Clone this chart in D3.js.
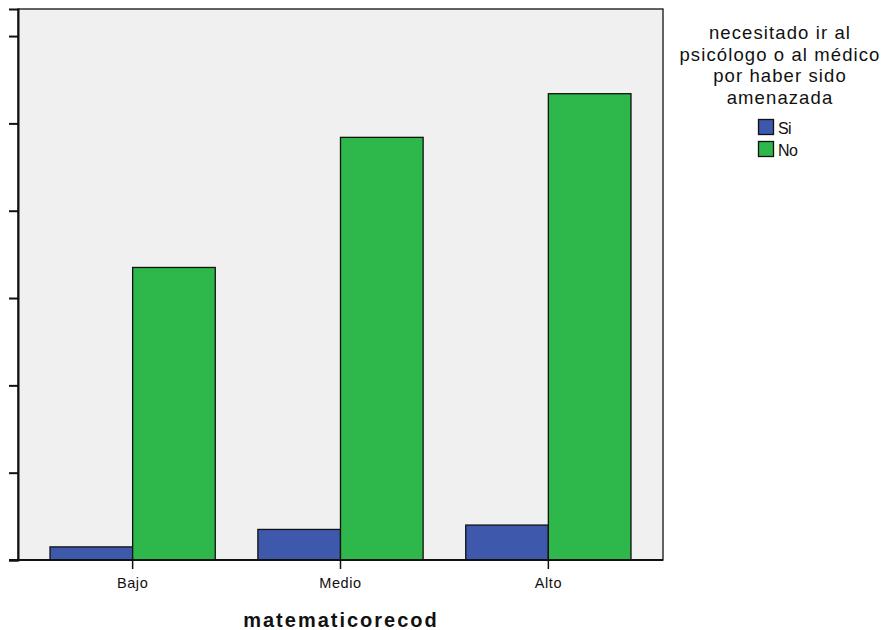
<!DOCTYPE html>
<html><head><meta charset="utf-8">
<script src="https://cdn.jsdelivr.net/npm/d3@7"></script>
<style>body{margin:0;background:#fff}svg{display:block}</style>
</head><body>
<script>
const categories = ["Bajo", "Medio", "Alto"];
const seriesNames = ["Si", "No"];
const siValues = [1.5, 3.5, 4.0];
const noValues = [33.5, 48.4, 53.4];
const yTicks = [0, 10, 20, 30, 40, 50, 60];
const legendTitle = ["necesitado ir al", "psicólogo o al médico", "por haber sido", "amenazada"];
const xTitle = "matematicorecod";
const colors = ["#3e58ac", "#2eb84b"];

const W = 886, H = 630;
const L = 18, R = 663, T = 9, B = 560;
const svg = d3.select("body").append("svg").attr("width", W).attr("height", H)
  .style("font-family", "Arial, 'Liberation Sans', sans-serif");

svg.append("rect").attr("x", L).attr("y", T).attr("width", R - L).attr("height", B - T)
  .attr("fill", "#f0f0f0");

const x = d3.scaleBand().domain(categories).range([L, R]).paddingInner(0.205).paddingOuter(0.154);
const xs = d3.scaleBand().domain(seriesNames).range([0, x.bandwidth()]);
const y = d3.scaleLinear().domain([0, 63.1]).range([B, T]);

const data = categories.map((c, i) => ({cat: c, vals: [siValues[i], noValues[i]]}));
const g = svg.append("g");
data.forEach(d => {
  d.vals.forEach((v, j) => {
    g.append("rect")
      .attr("x", x(d.cat) + xs(seriesNames[j]))
      .attr("y", y(v))
      .attr("width", xs.bandwidth())
      .attr("height", y(0) - y(v))
      .attr("fill", colors[j]).attr("stroke", "#111").attr("stroke-width", 1.3);
  });
});

// frame
svg.append("rect").attr("x", L).attr("y", T).attr("width", R - L).attr("height", B - T)
  .attr("fill", "none").attr("stroke", "#111").attr("stroke-width", 1.3);

// y axis ticks (no labels)
const yAxis = d3.axisLeft(y).tickValues(yTicks).tickSize(9).tickFormat("");
const ya = svg.append("g").attr("transform", `translate(${L},0)`).call(yAxis);
ya.select(".domain").attr("stroke", "#111").attr("stroke-width", 2);
ya.selectAll(".tick line").attr("stroke", "#111").attr("stroke-width", 2);

// x axis
const xAxis = d3.axisBottom(x).tickSize(9).tickSizeOuter(0);
const xa = svg.append("g").attr("transform", `translate(0,${B})`).call(xAxis);
xa.select(".domain").attr("stroke", "#111").attr("stroke-width", 2).attr("d", `M${L - 9},0H${R}`);
xa.selectAll(".tick line").attr("stroke", "#111").attr("stroke-width", 1.5);
xa.selectAll(".tick text").attr("font-size", 14.5).attr("fill", "#111").attr("dy", "0").attr("y", 28)
  .attr("letter-spacing", "0.6")
  .style("font-family", "Arial, 'Liberation Sans', sans-serif");

svg.append("text").attr("x", 341).attr("y", 627).attr("text-anchor", "middle")
  .attr("font-size", 20).attr("font-weight", "bold").attr("letter-spacing", "2").attr("fill", "#111").text(xTitle);

// legend
const lg = svg.append("g");
legendTitle.forEach((t, i) => {
  lg.append("text").attr("x", 780).attr("y", 39 + i * 21.5).attr("text-anchor", "middle")
    .attr("font-size", 18.5).attr("letter-spacing", "1.1").attr("fill", "#111").text(t);
});
seriesNames.forEach((s, i) => {
  lg.append("rect").attr("x", 758.5).attr("y", 119.5 + i * 22).attr("width", 15).attr("height", 15)
    .attr("fill", colors[i]).attr("stroke", "#111").attr("stroke-width", 1.3);
  lg.append("text").attr("x", 778).attr("y", 134 + i * 22).attr("font-size", 16)
    .attr("fill", "#111").attr("letter-spacing", "-0.6").text(s);
});
</script>
</body></html>
